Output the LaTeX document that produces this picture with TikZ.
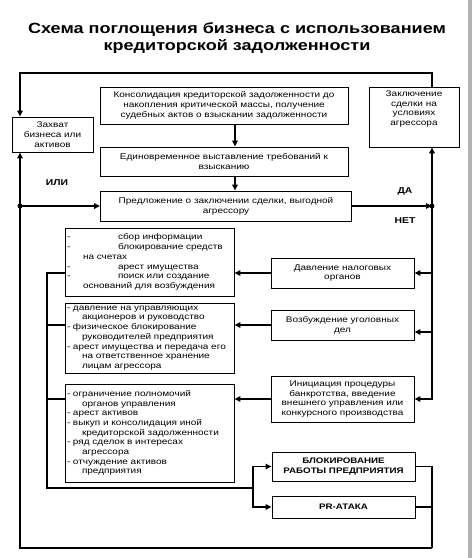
\documentclass[tikz,border=0pt]{standalone}
\usepackage{fontspec}
\setmainfont{Liberation Sans}[FakeStretch=1.22]
\usetikzlibrary{arrows.meta,calc}
\newcommand\itm[1]{\makebox[6pt][l]{-}#1}
\newcommand\cnt[1]{\hspace*{15pt}#1}
\newcommand\itmA[1]{\makebox[51pt][l]{-}#1}
\begin{document}
\begin{tikzpicture}[x=1pt,y=-1pt,
  box/.style={draw, line width=0.9pt, rectangle, inner sep=2pt, font=\fontsize{8.2}{9.7}\selectfont, align=center},
  lbox/.style={box, align=left, text width=165pt, minimum width=169pt},
  conn/.style={line width=1.6pt},
  arr/.style={conn, -{Triangle[length=6pt,width=5.5pt]}},
  lbl/.style={font=\bfseries\fontsize{8.5}{9.7}\selectfont},
  dot/.style={circle, fill, inner sep=0pt, minimum size=5pt}]
\useasboundingbox (0,0) rectangle (474,558);
\fill[gray!60] (468,0) rectangle (472,558);

\node[font=\bfseries\fontsize{14.8}{17}\selectfont, align=center] (title) at (237,38.5)
  {Схема поглощения бизнеса с использованием\\кредиторской задолженности};

\node[box, minimum width=81pt, minimum height=35pt] (zahvat) at (52.5,134.5) {Захват\\бизнеса или\\активов};
\node[box, minimum width=248pt, minimum height=37pt] (konsol) at (224,105.5)
  {Консолидация кредиторской задолженности до\\накопления критической массы, получение\\судебных актов о взыскании задолженности};
\node[box, minimum width=248pt, minimum height=29pt] (edin) at (224,161.5)
  {Единовременное выставление требований к\\взысканию};
\node[box, minimum width=251pt, minimum height=30pt] (predl) at (226,206)
  {Предложение о заключении сделки, выгодной\\агрессору};
\node[box, minimum width=90pt, minimum height=60pt] (zakl) at (414,117) {};
\node[font=\fontsize{8.2}{9.7}\selectfont, align=center] (zaklt) at (414,109) {Заключение\\сделки на\\условиях\\агрессора};

\node[box, minimum width=143pt, minimum height=30pt] (nalog) at (342.5,273) {Давление налоговых\\органов};
\node[box, minimum width=143pt, minimum height=30pt] (ugol) at (342.5,325) {Возбуждение уголовных\\дел};
\node[box, minimum width=143pt, minimum height=46pt] (bankr) at (342.5,399)
  {Инициация процедуры\\банкротства, введение\\внешнего управления или\\конкурсного производства};
\node[box, minimum width=143pt, minimum height=29pt, font=\bfseries\fontsize{8}{9.7}\selectfont] (blok) at (343.5,466.5)
  {БЛОКИРОВАНИЕ\\РАБОТЫ ПРЕДПРИЯТИЯ};
\node[box, minimum width=143pt, minimum height=22pt, font=\bfseries\fontsize{8}{9.7}\selectfont] (pr) at (343.5,507) {PR-АТАКА};

\node[lbox, minimum height=68pt] (box1) at (149.5,262)
  {\itmA{сбор информации}\\
   \itmA{блокирование средств}\\
   \hspace*{16pt}на счетах\\
   \itmA{арест имущества}\\
   \itmA{поиск или создание}\\
   \hspace*{16pt}оснований для возбуждения};
\node[lbox, minimum height=70pt] (box2) at (149.5,338)
  {\itm{давление на управляющих}\\
   \cnt{акционеров и руководство}\\
   \itm{физическое блокирование}\\
   \cnt{руководителей предприятия}\\
   \itm{арест имущества и передача его}\\
   \cnt{на ответственное хранение}\\
   \cnt{лицам агрессора}};
\node[lbox, minimum height=98pt] (box3) at (149.5,433)
  {\itm{ограничение полномочий}\\
   \cnt{органов управления}\\
   \itm{арест активов}\\
   \itm{выкуп и консолидация иной}\\
   \cnt{кредиторской задолженности}\\
   \itm{ряд сделок в интересах}\\
   \cnt{агрессора}\\
   \itm{отчуждение активов}\\
   \cnt{предприятия}};

\node[lbl] (ili) at (57,183) {ИЛИ};
\node[lbl] (da) at (405,191) {ДА};
\node[lbl] (net) at (405,221) {НЕТ};

\coordinate (tl) at (20,73);
\coordinate (tr) at (432,73);
\coordinate (bl) at (20,548);
\coordinate (br) at (432,548);
\coordinate (jl) at (20,206);
\coordinate (jr) at (432,206);
\coordinate (bb) at (47,488);
\coordinate (fk) at (253,488);
\coordinate (ax) at (235,0);
\coordinate (ue) at ($(ugol.east)+(0,7)$);

\draw[arr] (zakl.north -| tr) -- (tr) -- (tl) -- (zahvat.north -| tl);
\draw[arr] (br) -- (bl) -- (zahvat.south -| bl);
\draw[conn] (blok.east) -| (br);
\draw[conn] (pr.east) -- (pr.east -| br);
\draw[arr] (jl) -- (predl.west);
\draw[arr] (predl.east) -- (jr);
\draw[arr] (jr) -- (zakl.south -| jr);
\draw[arr] (jr) |- (bankr.east);
\draw[arr] (nalog.east -| jr) -- (nalog.east);
\draw[arr] (ue -| jr) -- (ue);
\draw[arr] (konsol.south -| ax) -- (edin.north -| ax);
\draw[arr] (edin.south -| ax) -- (predl.north -| ax);
\draw[arr] (nalog.west) -- (nalog.west -| box1.east);
\draw[arr] (ugol.west) -- (ugol.west -| box2.east);
\draw[arr] (bankr.west) -- (bankr.west -| box3.east);
\draw[conn] (box1.west |- nalog.west) -| (bb) -- (fk);
\draw[conn] (box2.west |- ugol.west) -- (ugol.west -| bb);
\draw[conn] (box3.west |- bankr.west) -- (bankr.west -| bb);
\draw[arr] (fk) |- (blok.west);
\draw[arr] (fk) |- (pr.west);
\node[dot] (d1) at (jl) {};
\node[dot] (d2) at (jr) {};
\end{tikzpicture}
\end{document}
